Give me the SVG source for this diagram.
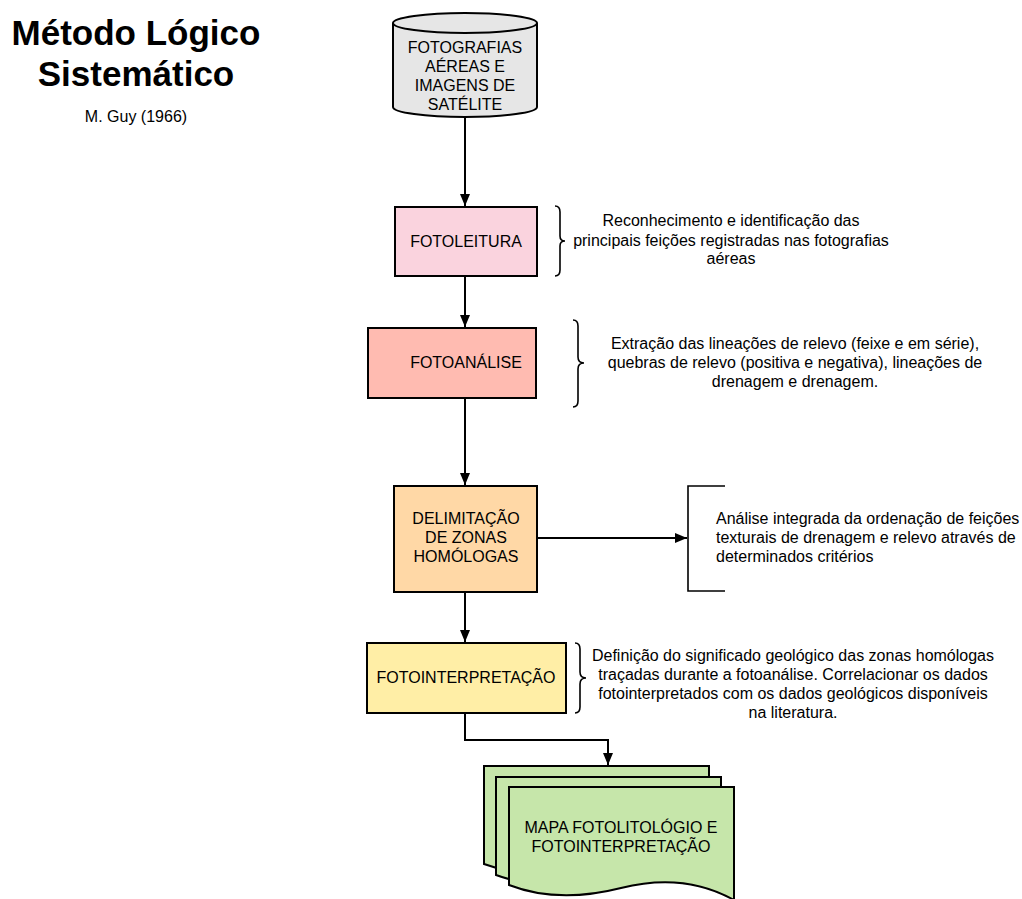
<svg xmlns="http://www.w3.org/2000/svg" width="1022" height="899" viewBox="0 0 1022 899">
<style>
text{font-family:"Liberation Sans",Arial,sans-serif;fill:#000;}
.lbl{font-size:16px;text-anchor:middle;}
.desc{font-size:16px;text-anchor:middle;}
.box{stroke:#000;stroke-width:2;}
.ln{fill:none;stroke:#000;stroke-width:2;}
.br{fill:none;stroke:#000;stroke-width:1.6;}
</style>
<defs>
<marker id="ah" viewBox="0 0 12 12" refX="12" refY="6" markerWidth="12" markerHeight="12" markerUnits="userSpaceOnUse" orient="auto">
<path d="M0,1 L12,6 L0,11 Z" fill="#000"/>
</marker>
</defs>
<rect width="1022" height="899" fill="#fff"/>

<g id="title">
<text x="136" y="45" style="font-size:35px;font-weight:bold;text-anchor:middle">Método Lógico</text>
<text x="136" y="86" style="font-size:35px;font-weight:bold;text-anchor:middle">Sistemático</text>
<text x="136" y="122" style="font-size:16px;text-anchor:middle">M. Guy (1966)</text>
</g>

<g id="connectors">
<line class="ln" x1="465" y1="117" x2="465" y2="206" marker-end="url(#ah)"/>
<line class="ln" x1="465" y1="276" x2="465" y2="327" marker-end="url(#ah)"/>
<line class="ln" x1="465" y1="398" x2="465" y2="485" marker-end="url(#ah)"/>
<line class="ln" x1="465" y1="592" x2="465" y2="642" marker-end="url(#ah)"/>
<line class="ln" x1="537" y1="538" x2="687" y2="538" marker-end="url(#ah)"/>
<polyline class="ln" points="465,713 465,740 608,740 608,765" marker-end="url(#ah)"/>
</g>

<g id="node-fotografias">
<path class="box" fill="#E6E6E6" d="M393,23 A72,10 0 0 1 537,23 V107 A72,10 0 0 1 393,107 Z"/>
<path class="ln" d="M393,23 A72,10 0 0 0 537,23"/>
<text class="lbl" x="465" y="53">FOTOGRAFIAS</text>
<text class="lbl" x="465" y="72">AÉREAS E</text>
<text class="lbl" x="465" y="91">IMAGENS DE</text>
<text class="lbl" x="465" y="110">SATÉLITE</text>
</g>

<g id="node-fotoleitura">
<rect class="box" x="395" y="207" width="142" height="69" fill="#FAD3DE"/>
<text class="lbl" x="466" y="247">FOTOLEITURA</text>
</g>
<g id="desc-fotoleitura">
<path class="br" d="M555,206 Q560,206 560,212 V236 Q560,241 565,241 Q560,241 560,246 V270 Q560,276 555,276"/>
<text class="desc" x="731" y="226">Reconhecimento e identificação das</text>
<text class="desc" x="731" y="246">principais feições registradas nas fotografias</text>
<text class="desc" x="731" y="264">aéreas</text>
</g>

<g id="node-fotoanalise">
<rect class="box" x="368" y="328" width="168" height="70" fill="#FFBBB1"/>
<text class="lbl" x="466" y="368">FOTOANÁLISE</text>
</g>
<g id="desc-fotoanalise">
<path class="br" d="M573,320 Q578,320 578,326 V357 Q578,363 584,363 Q578,363 578,369 V401 Q578,407 573,407"/>
<text class="desc" x="795" y="349">Extração das lineações de relevo (feixe e em série),</text>
<text class="desc" x="795" y="368">quebras de relevo (positiva e negativa), lineações de</text>
<text class="desc" x="795" y="387">drenagem e drenagem.</text>
</g>

<g id="node-delimitacao">
<rect class="box" x="394" y="486" width="143" height="106" fill="#FFD8A6"/>
<text class="lbl" x="466" y="524">DELIMITAÇÃO</text>
<text class="lbl" x="466" y="543">DE ZONAS</text>
<text class="lbl" x="466" y="562">HOMÓLOGAS</text>
</g>
<g id="desc-delimitacao">
<path class="br" d="M725,486 H688 V591 H725"/>
<text x="716" y="524" style="font-size:16px">Análise integrada da ordenação de feições</text>
<text x="716" y="543" style="font-size:16px">texturais de drenagem e relevo através de</text>
<text x="716" y="562" style="font-size:16px">determinados critérios</text>
</g>

<g id="node-fotointerpretacao">
<rect class="box" x="367" y="643" width="199" height="70" fill="#FFEEA6"/>
<text class="lbl" x="466" y="683">FOTOINTERPRETAÇÃO</text>
</g>
<g id="desc-fotointerpretacao">
<path class="br" d="M575,643 Q580,643 580,649 V672 Q580,678 586,678 Q580,678 580,684 V707 Q580,713 575,713"/>
<text class="desc" x="793" y="661">Definição do significado geológico das zonas homólogas</text>
<text class="desc" x="793" y="680">traçadas durante a fotoanálise. Correlacionar os dados</text>
<text class="desc" x="793" y="699">fotointerpretados com os dados geológicos disponíveis</text>
<text class="desc" x="793" y="718">na literatura.</text>
</g>

<g id="node-mapa">
<path class="box" fill="#C6E6AA" d="M484,766 H709 V878 Q659,850 596,866 T484,864 Z"/>
<path class="box" fill="#C6E6AA" d="M496,777 H721 V889 Q671,861 608,877 T496,875 Z"/>
<path class="box" fill="#C6E6AA" d="M509,787 H734 V900 Q684,872 621,888 T509,885 Z"/>
<text class="lbl" x="621" y="833">MAPA FOTOLITOLÓGIO E</text>
<text class="lbl" x="621" y="852">FOTOINTERPRETAÇÃO</text>
</g>
</svg>
